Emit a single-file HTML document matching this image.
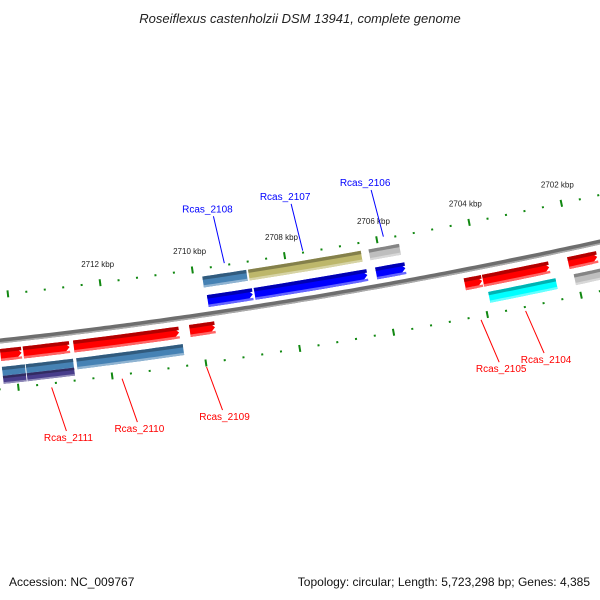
<!DOCTYPE html>
<html><head><meta charset="utf-8"><style>
body{margin:0;background:#fff}
svg{display:block;font-family:"Liberation Sans","DejaVu Sans",sans-serif}
</style></head><body>
<svg id="map" width="600" height="600" viewBox="0 0 600 600" xmlns="http://www.w3.org/2000/svg">
<text x="300" y="23" text-anchor="middle" font-size="13" font-style="italic" fill="#222">Roseiflexus castenholzii DSM 13941, complete genome</text>
<text x="9" y="586" font-size="12" fill="#111">Accession: NC_009767</text>
<text x="590" y="586" text-anchor="end" font-size="12" fill="#111">Topology: circular; Length: 5,723,298 bp; Genes: 4,385</text>
<g id="layer"></g>
</svg>
<script>
// data (kbp)
const majorTicks = [2714, 2712, 2710, 2708, 2706, 2704, 2702, 2700];
const tickLabels = ["2712 kbp","2710 kbp","2708 kbp","2706 kbp","2704 kbp","2702 kbp"];
const labelTicks = [2712, 2710, 2708, 2706, 2704, 2702];
const fwdGenes = [[2709.77,2708.80],[2708.76,2706.33],[2706.14,2705.51]];
const fwdCds = [[2709.81,2708.86],[2708.82,2706.38],[2706.21,2705.55]];
const fwdCdsColors = ["#4682b4","#bdb76b","#bebebe"];
const revGenes = [[2714.3,2713.85],[2713.81,2712.82],[2712.73,2710.47],[2710.24,2709.70],[2704.34,2703.97],[2703.95,2702.53],[2702.12,2701.5]];
const revCds = [[2714.3,2713.81],[2713.79,2712.78],[2712.71,2710.43],[2703.89,2702.45],[2702.06,2701.5]];
const revCdsColors = ["#4682b4","#4682b4","#4682b4","#00ffff","#bebebe"];
const miscFeat = [[2714.3,2713.81],[2713.79,2712.78]];
const fwdLabels = ["Rcas_2108","Rcas_2107","Rcas_2106"];
const fwdLabelPos = [2709.3,2707.6,2705.85];
const revLabels = ["Rcas_2111","Rcas_2110","Rcas_2109","Rcas_2105","Rcas_2104"];
const revLabelPos = [2713.3,2711.8,2710.0,2704.15,2703.2];

const NS="http://www.w3.org/2000/svg";
const layer=document.getElementById('layer');
function xs(k){return 106+(2712-k)*46.5;}
function cy(x){return 341-0.11*x-9.17e-5*x*x;}
function slope(x){return -0.11-2*9.17e-5*x;}
function pt(k,d){const x=xs(k),s=slope(x),l=Math.hypot(1,s);return [x+d*s/l, cy(x)-d/l];}
function el(tag,attrs){const e=document.createElementNS(NS,tag);for(const a in attrs)e.setAttribute(a,attrs[a]);layer.appendChild(e);return e;}
function band(a,b,d1,d2,arrow){
  // a->b in kbp order of drawing; arrow tip at b
  const pts=[];const xa=xs(a),xb=xs(b);const dir=xb>xa?1:-1;
  const tipLen=arrow?6:0;
  const xbBody=xb-dir*tipLen;
  const n=12;
  const toK=x=>2712-(x-106)/46.5;
  for(let i=0;i<=n;i++){pts.push(pt(toK(xa+(xbBody-xa)*i/n),d1));}
  if(arrow)pts.push(pt(toK(xb),(d1+d2)/2));
  for(let i=n;i>=0;i--){pts.push(pt(toK(xa+(xbBody-xa)*i/n),d2));}
  return pts.map(p=>p[0].toFixed(1)+','+p[1].toFixed(1)).join(' ');
}
function shade(c,f){const n=parseInt(c.slice(1),16);let r=n>>16,g=(n>>8)&255,b=n&255;
 const m=v=>Math.max(0,Math.min(255,Math.round(f<1?v*f:v+(255-v)*(f-1))));return `rgb(${m(r)},${m(g)},${m(b)})`;}
function feature(a,b,dTop,h,color,arrow,name){
  const p=el('polygon',{points:band(a,b,dTop,dTop-h,arrow),fill:color});
  
  
  const t=el('polygon',{points:band(a,b,dTop,dTop-h*0.3,false),fill:shade(color,0.7)});
  
  
  const bt=el('polygon',{points:band(a,b,dTop-h*0.8,dTop-h,false),fill:shade(color,1.4)});
  
  
}
// backbone
let bb='';for(let x=-5;x<=605;x+=5){bb+=(x<0?'M':'L')+x+','+cy(x).toFixed(1);}
const b1=el('path',{d:bb,stroke:'#6e6e6e','stroke-width':5,fill:'none'});


const b2=el('path',{d:bb,stroke:'#aaa','stroke-width':1.5,fill:'none',transform:'translate(0,1.8)'});


// ticks
for(let k=2714.4;k>=2700.8;k-=0.4){
  const kk=Math.round(k*10)/10;const major=Math.abs(kk/2-Math.round(kk/2))<0.01;
  [[46,1],[-48,1]].forEach(([d])=>{
    const len=major?7:2;const p1=pt(kk,d+len/2),p2=pt(kk,d-len/2);
    const t=el('line',{x1:p1[0],y1:p1[1],x2:p2[0],y2:p2[1],stroke:'#118811','stroke-width':2});
    
    
  });
}
labelTicks.forEach((k,i)=>{const p=pt(k,65);
  const t=el('text',{x:p[0],y:p[1]+3,'text-anchor':'middle','font-size':8,fill:'#222'});t.textContent=tickLabels[i];
  
  });
// features
fwdCds.forEach((g,i)=>feature(g[0],g[1],38,11,fwdCdsColors[i],false,'forward-cds'));
fwdGenes.forEach(g=>feature(g[0],g[1],19,12,'#0000ff',true,'forward-gene'));
revGenes.forEach(g=>feature(g[0],g[1],-8,12,'#ff0000',true,'reverse-gene'));
revCds.forEach((g,i)=>feature(g[0],g[1],-26,11,revCdsColors[i],false,'reverse-cds'));
miscFeat.forEach(g=>feature(g[0],g[1],-35,8,'#483d8b',false,'misc-feature'));
// labels
fwdLabels.forEach((s,i)=>{const k=fwdLabelPos[i];const p1=pt(k,48),p2=pt(k+0.08,96);
  const l=el('line',{x1:p1[0],y1:p1[1],x2:p2[0],y2:p2[1],stroke:'#0000ff'});
  
  
  const t=el('text',{x:p2[0]-6,y:p2[1]-4,'text-anchor':'middle','font-size':10,fill:'#0000ff'});t.textContent=s;
  
  });
revLabels.forEach((s,i)=>{const k=revLabelPos[i];const p1=pt(k,-52),p2=pt(k-0.2,-97);
  const l=el('line',{x1:p1[0],y1:p1[1],x2:p2[0],y2:p2[1],stroke:'#ff0000'});
  
  
  const t=el('text',{x:p2[0]+2,y:p2[1]+10,'text-anchor':'middle','font-size':10,fill:'#ff0000'});t.textContent=s;
  
  });
</script>
</body></html>
